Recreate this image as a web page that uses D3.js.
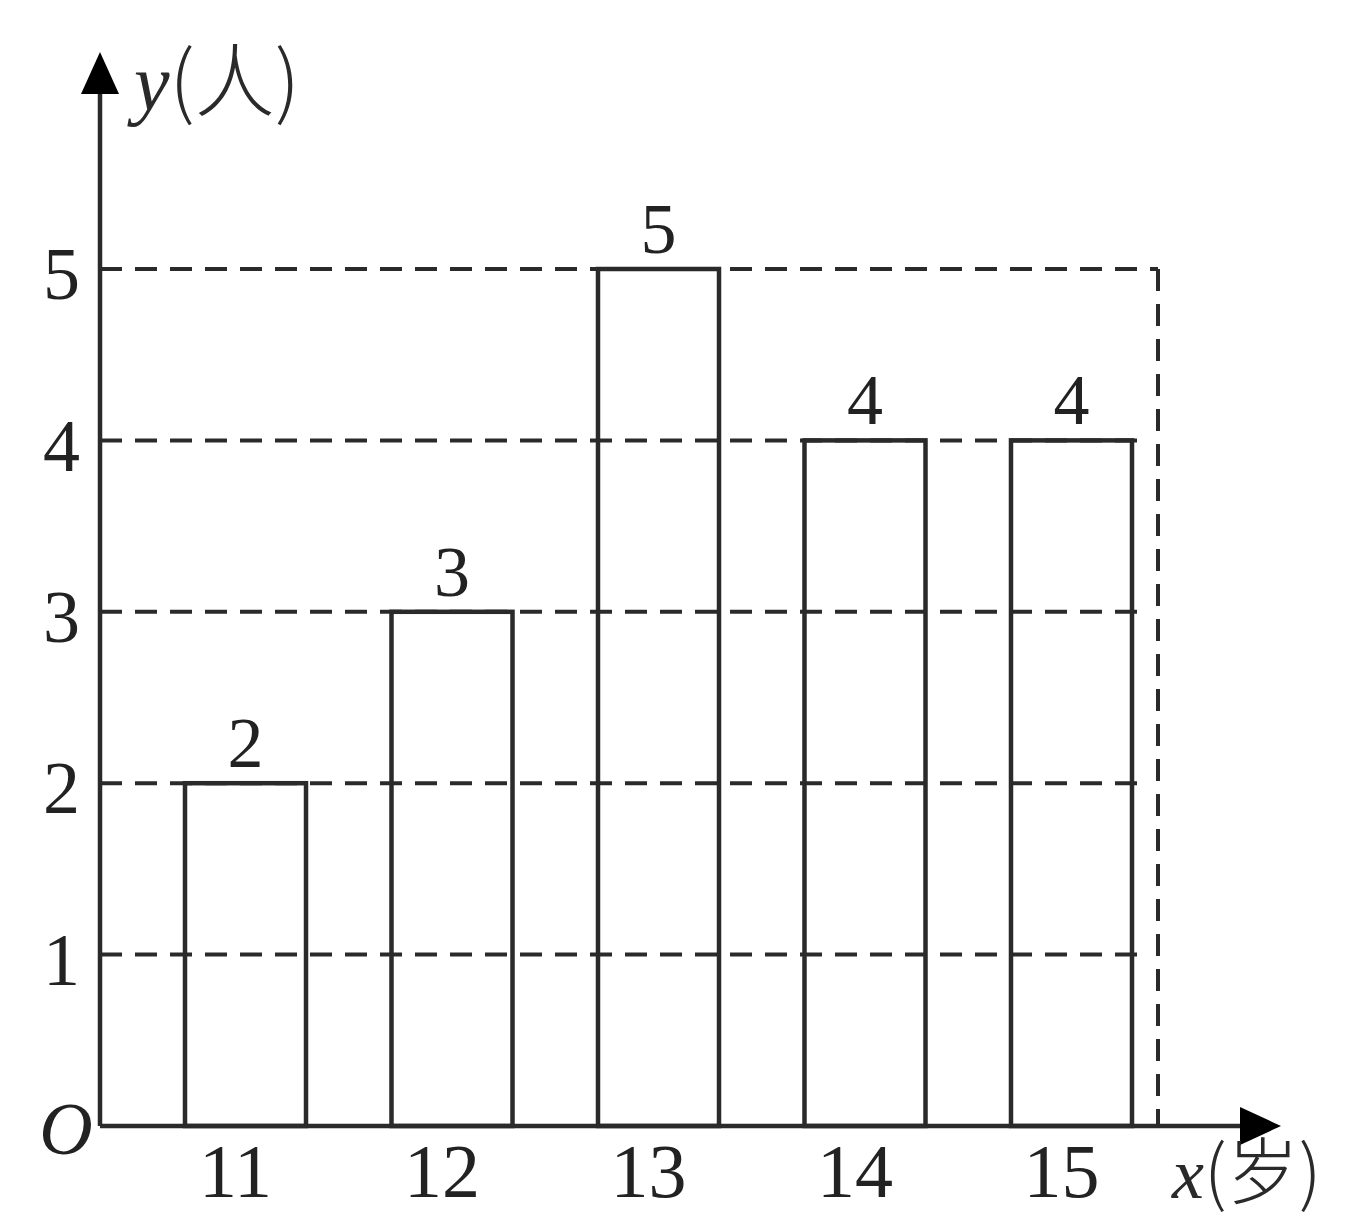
<!DOCTYPE html>
<html>
<head>
<meta charset="utf-8">
<script src="https://cdn.jsdelivr.net/npm/d3@7"></script>
<style>
  body { margin: 0; background: #fff; }
  svg { display: block; }
  .num { font-family: "Liberation Serif", "Times New Roman", serif; fill: #222; }
</style>
</head>
<body>
<svg id="chart" width="1352" height="1224"></svg>
<script>
// ages on the x axis and number of people for each
const ages = [11, 12, 13, 14, 15];
const counts = [2, 3, 5, 4, 4];
const yTicks = [1, 2, 3, 4, 5];

const ink = "#2a2a2a";

function draw() {
  const svg = d3.select("#chart");

  const x = d3.scaleBand()
    .domain(ages)
    .range([185, 1132])
    .paddingInner(0.414)
    .paddingOuter(0);

  const y = d3.scaleLinear()
    .domain([0, 5])
    .range([1126, 269]);

  const originX = 100;
  const originY = y(0);
  const gridEnd = x.range()[1] + 8;
  const frameX = x.range()[1] + 26;

  // dashed guide lines
  const grid = svg.append("g")
    .attr("stroke", ink)
    .attr("stroke-width", 4)
    .attr("stroke-dasharray", "22,13");

  grid.selectAll("line.h")
    .data(yTicks)
    .enter()
    .append("line")
    .attr("class", "h")
    .attr("x1", originX)
    .attr("x2", (d) => (d === 5 ? frameX : gridEnd))
    .attr("y1", (d) => y(d))
    .attr("y2", (d) => y(d));

  grid.append("line")
    .attr("x1", frameX)
    .attr("x2", frameX)
    .attr("y1", y(5))
    .attr("y2", originY);

  // bars (outline only)
  const data = ages.map((a, i) => ({ age: a, count: counts[i] }));

  svg.append("g")
    .selectAll("rect")
    .data(data)
    .enter()
    .append("rect")
    .attr("x", (d) => x(d.age))
    .attr("y", (d) => y(d.count))
    .attr("width", x.bandwidth())
    .attr("height", (d) => originY - y(d.count))
    .attr("fill", "none")
    .attr("stroke", ink)
    .attr("stroke-width", 4.5);

  // value labels
  svg.append("g")
    .selectAll("text")
    .data(data)
    .enter()
    .append("text")
    .attr("class", "num")
    .attr("x", (d) => x(d.age) + x.bandwidth() / 2)
    .attr("y", (d) => y(d.count) - 16)
    .attr("text-anchor", "middle")
    .attr("font-size", 72)
    .text((d) => d.count);

  // axes lines with arrows
  svg.append("path")
    .attr("d", `M${originX},${originY}H1245`)
    .attr("stroke", ink)
    .attr("stroke-width", 4.5);
  svg.append("path")
    .attr("d", `M1240,${originY - 19}L1281,${originY}L1240,${originY + 19}Z`)
    .attr("fill", "#000");

  svg.append("path")
    .attr("d", `M${originX},${originY}V90`)
    .attr("stroke", ink)
    .attr("stroke-width", 4.5);
  svg.append("path")
    .attr("d", `M${originX - 19},94L${originX},52L${originX + 19},94Z`)
    .attr("fill", "#000");

  // tick labels through d3 axes, no tick marks
  const yAxis = svg.append("g")
    .attr("transform", `translate(${originX},0)`)
    .call(d3.axisLeft(y).tickValues(yTicks).tickSize(0).tickPadding(20).tickFormat(d3.format("d")));
  yAxis.select(".domain").remove();
  yAxis.selectAll("text")
    .attr("class", "num")
    .attr("font-size", 74)
    .attr("dy", "0.40em")
    .attr("fill", ink);

  const xAxis = svg.append("g")
    .attr("transform", `translate(0,${originY})`)
    .call(d3.axisBottom(x).tickSize(0).tickPadding(17));
  xAxis.select(".domain").remove();
  xAxis.selectAll("text")
    .attr("class", "num")
    .attr("font-size", 76)
    .attr("dx", -10)
    .attr("fill", ink);

  // origin
  svg.append("text")
    .attr("class", "num")
    .attr("x", 66)
    .attr("y", originY + 28)
    .attr("text-anchor", "middle")
    .attr("font-size", 74)
    .attr("font-style", "italic")
    .text("O");

  // axis titles
  const yTitle = svg.append("text")
    .attr("x", 134)
    .attr("y", 110)
    .attr("font-size", 80)
    .attr("fill", ink);
  yTitle.append("tspan")
    .attr("font-family", "Liberation Serif, serif")
    .attr("font-style", "italic")
    .text("y");
  yTitle.append("tspan")
    .attr("font-family", "Noto Sans CJK SC, sans-serif")
    .attr("font-weight", 300)
    .text("(人)");

  const xTitle = svg.append("text")
    .attr("x", 1172)
    .attr("y", 1198)
    .attr("font-size", 72)
    .attr("fill", ink);
  xTitle.append("tspan")
    .attr("font-family", "Liberation Serif, serif")
    .attr("font-style", "italic")
    .text("x");
  xTitle.append("tspan")
    .attr("font-family", "Noto Sans CJK SC, sans-serif")
    .attr("font-weight", 300)
    .text("(岁)");
}

draw();
</script>
</body>
</html>
